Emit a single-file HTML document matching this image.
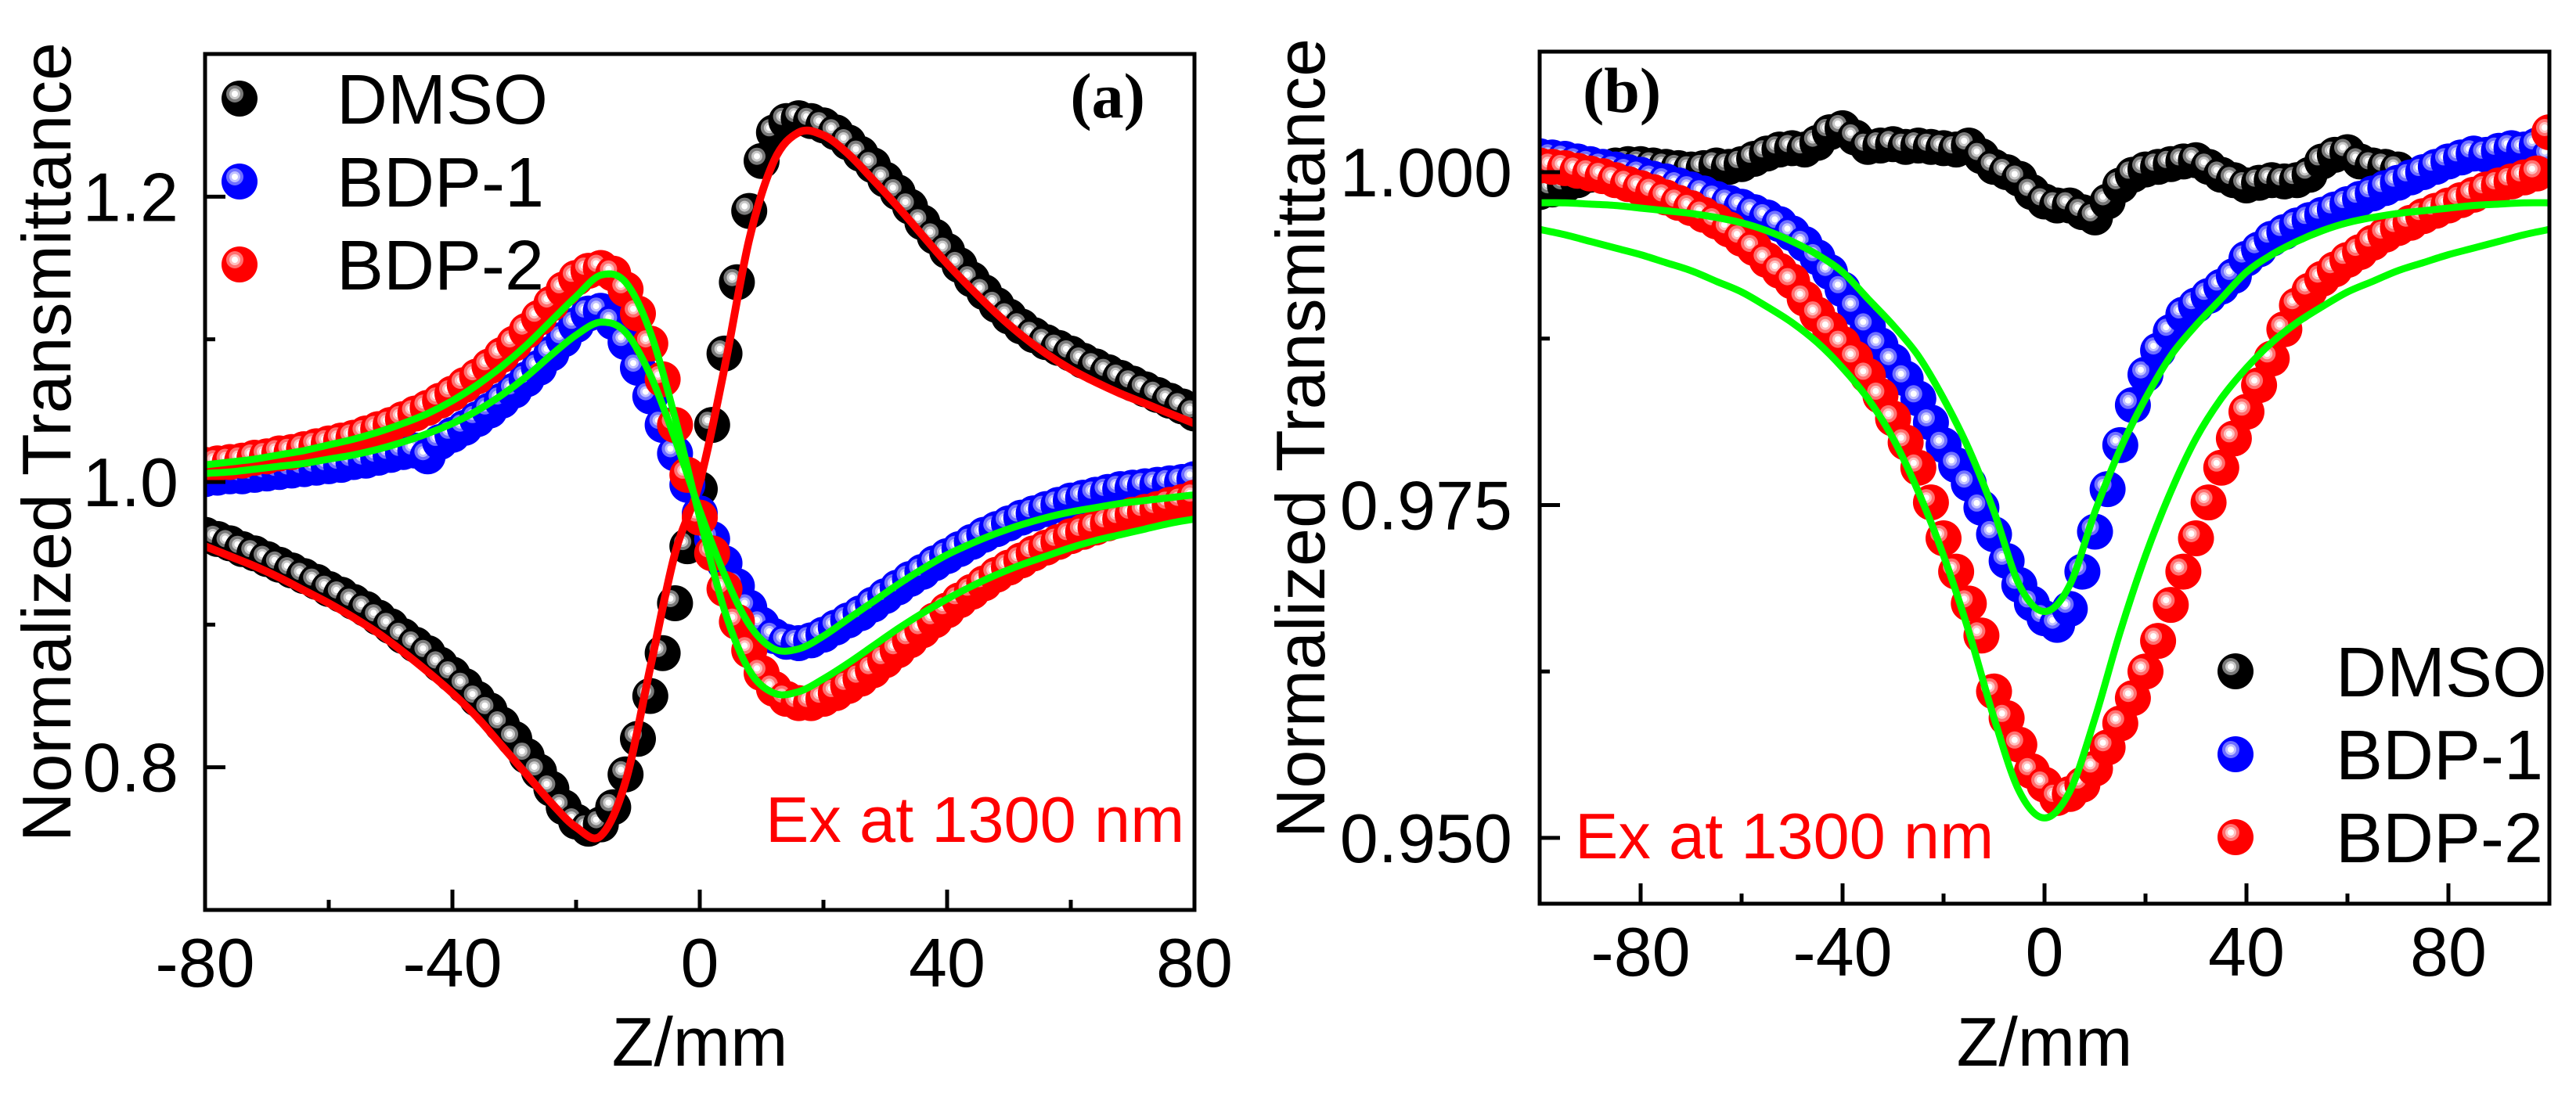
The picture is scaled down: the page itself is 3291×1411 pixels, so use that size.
<!DOCTYPE html>
<html><head><meta charset="utf-8"><style>
html,body{margin:0;padding:0;background:#fff;}
svg{display:block;font-family:"Liberation Sans",Arial,sans-serif;}
</style></head><body>
<svg id="fig" width="3291" height="1411" viewBox="0 0 3291 1411" xmlns="http://www.w3.org/2000/svg">
<defs>
<g id="mk-black"><circle r="23" fill="#000"/><circle cx="-6" cy="-6" r="11" fill="#7a7a7a"/><circle cx="-6" cy="-6" r="7" fill="#c8c8c8"/><circle cx="-6" cy="-6" r="4" fill="#fff"/></g>
<g id="mk-blue"><circle r="23" fill="#0000ff"/><circle cx="-6" cy="-6" r="11" fill="#7070ff"/><circle cx="-6" cy="-6" r="7" fill="#c0c0ff"/><circle cx="-6" cy="-6" r="4" fill="#fff"/></g>
<g id="mk-red"><circle r="23" fill="#ff0000"/><circle cx="-6" cy="-6" r="11" fill="#ff7070"/><circle cx="-6" cy="-6" r="7" fill="#ffc0c0"/><circle cx="-6" cy="-6" r="4" fill="#fff"/></g>
<clipPath id="clipA"><rect x="262" y="69" width="1264" height="1094"/></clipPath>
<clipPath id="clipB"><rect x="1967" y="66" width="1290" height="1089"/></clipPath>
</defs>
<g id="panelA"></g>
<g id="panelB"></g>
</svg>
<script>
// ---------- Panel (a) data ----------
const zA = [-80,-78,-76,-74,-72,-70,-68,-66,-64,-62,-60,-58,-56,-54,-52,-50,-48,-46,-44,-42,-40,-38,-36,-34,-32,-30,-28,-26,-24,-22,-20,-18,-16,-14,-12,-10,-8,-6,-4,-2,0,2,4,6,8,10,12,14,16,18,20,22,24,26,28,30,32,34,36,38,40,42,44,46,48,50,52,54,56,58,60,62,64,66,68,70,72,74,76,78,80];
const dmsoA = [.963,.960,.957,.953,.950,.946,.942,.938,.934,.930,.925,.921,.916,.911,.905,.899,.892,.886,.880,.872,.865,.857,.848,.840,.830,.820,.808,.797,.785,.772,.762,.757,.760,.772,.795,.820,.850,.880,.915,.955,.995,1.04,1.09,1.14,1.19,1.225,1.245,1.253,1.255,1.253,1.250,1.245,1.238,1.230,1.222,1.212,1.203,1.193,1.182,1.172,1.162,1.152,1.142,1.133,1.124,1.116,1.109,1.103,1.098,1.094,1.090,1.085,1.081,1.077,1.073,1.069,1.065,1.061,1.057,1.053,1.048];
const bdp1A = [1.002,1.003,1.004,1.004,1.005,1.006,1.007,1.008,1.009,1.010,1.011,1.012,1.014,1.015,1.017,1.019,1.021,1.022,1.018,1.028,1.033,1.038,1.044,1.050,1.057,1.064,1.072,1.080,1.090,1.100,1.110,1.118,1.120,1.112,1.098,1.080,1.060,1.040,1.020,0.998,0.978,0.960,0.943,0.927,0.912,0.900,0.892,0.888,0.887,0.889,0.893,0.898,0.903,0.908,0.914,0.920,0.926,0.932,0.937,0.943,0.948,0.953,0.958,0.963,0.967,0.971,0.975,0.978,0.981,0.984,0.987,0.989,0.991,0.993,0.995,0.996,0.997,0.998,0.999,1.000,1.002];
const bdp2A = [1.012,1.013,1.014,1.015,1.017,1.018,1.020,1.021,1.023,1.025,1.027,1.029,1.031,1.034,1.037,1.040,1.044,1.048,1.052,1.057,1.062,1.068,1.074,1.081,1.089,1.097,1.106,1.115,1.125,1.135,1.143,1.148,1.150,1.146,1.135,1.118,1.097,1.072,1.040,1.005,0.975,0.950,0.925,0.902,0.882,0.866,0.855,0.848,0.845,0.845,0.848,0.852,0.857,0.862,0.868,0.875,0.882,0.889,0.896,0.903,0.910,0.917,0.923,0.929,0.935,0.940,0.945,0.950,0.954,0.958,0.962,0.965,0.968,0.971,0.974,0.977,0.979,0.981,0.984,0.986,0.989];
const zFitA = [-80,-76,-72,-68,-64,-60,-56,-52,-48,-44,-40,-36,-32,-28,-24,-20,-16,-12,-8,-4,0,4,8,12,16,20,24,28,32,36,40,44,48,52,56,60,64,68,72,76,80];
const fitDmsoA = [.955,.948,.941,.933,.924,.915,.905,.894,.881,.867,.852,.835,.815,.795,.775,.758,.752,.790,.870,.950,1.00,1.08,1.17,1.225,1.245,1.243,1.230,1.212,1.193,1.173,1.153,1.135,1.118,1.103,1.090,1.079,1.070,1.062,1.055,1.048,1.041];
const fitBdp1A = [1.006,1.007,1.009,1.011,1.013,1.016,1.019,1.023,1.028,1.034,1.041,1.050,1.061,1.074,1.089,1.103,1.112,1.105,1.075,1.030,0.980,0.935,0.900,0.883,0.883,0.892,0.904,0.916,0.928,0.939,0.949,0.957,0.964,0.970,0.975,0.979,0.982,0.985,0.987,0.989,0.991];
const fitBdp2A = [1.012,1.014,1.016,1.019,1.022,1.026,1.030,1.035,1.041,1.048,1.057,1.068,1.081,1.096,1.113,1.130,1.145,1.140,1.105,1.045,0.975,0.910,0.868,0.852,0.853,0.862,0.873,0.885,0.897,0.908,0.918,0.927,0.935,0.942,0.948,0.954,0.959,0.963,0.967,0.971,0.974];
const xTicksA = [-80,-40,0,40,80];
const xTickLabelsA = ["-80","-40","0","40","80"];
const xMinorA = [-60,-20,20,60];
const yTicksA = [0.8,1.0,1.2];
const yTickLabelsA = ["0.8","1.0","1.2"];
const yMinorA = [0.9,1.1];

// ---------- Panel (b) data ----------
const zB = [];
for (let i = 0; i <= 80; i++) zB.push(-100 + 2.5 * i);
const dmsoB = [0.9985,0.9987,0.9990,0.9994,0.9998,1.0002,1.0005,1.0006,1.0006,1.0005,1.0004,1.0003,1.0002,1.0003,1.0005,1.0004,1.0006,1.0010,1.0014,1.0017,1.0018,1.0017,1.0022,1.0030,1.0033,1.0026,1.0019,1.0020,1.0021,1.0019,1.0020,1.0019,1.0018,1.0017,1.0020,1.0012,1.0004,1.0000,0.9995,0.9985,0.9978,0.9975,0.9975,0.9970,0.9966,0.9978,0.9990,0.9998,1.0002,1.0004,1.0006,1.0008,1.0009,1.0004,0.9998,0.9994,0.9990,0.9992,0.9994,0.9993,0.9994,0.9998,1.0008,1.0013,1.0015,1.0008,1.0005,1.0004,1.0002];
const bdp1B = [1.0012,1.0011,1.0010,1.0008,1.0006,1.0004,1.0002,1.0000,0.9998,0.9995,0.9993,0.9990,0.9987,0.9984,0.9980,0.9977,0.9974,0.9970,0.9966,0.9961,0.9954,0.9946,0.9936,0.9925,0.9912,0.9898,0.9884,0.9870,0.9858,0.9845,0.9830,0.9812,0.9795,0.9780,0.9766,0.9748,0.9728,0.9708,0.9690,0.9676,0.9665,0.9660,0.9672,0.9700,0.9730,0.9762,0.9795,0.9825,0.9848,0.9866,0.9880,0.9893,0.9900,0.9907,0.9914,0.9922,0.9935,0.9942,0.9950,0.9955,0.9960,0.9964,0.9968,0.9972,0.9976,0.9980,0.9984,0.9988,0.9992,0.9996,1.0000,1.0004,1.0008,1.0011,1.0014,1.0013,1.0016,1.0018,1.0017,1.0020,1.0012];
const bdp2B = [1.0005,1.0004,1.0003,1.0001,0.9999,0.9997,0.9994,0.9991,0.9988,0.9985,0.9981,0.9977,0.9973,0.9968,0.9963,0.9957,0.9950,0.9943,0.9934,0.9926,0.9918,0.9905,0.9893,0.9882,0.9871,0.9860,0.9847,0.9832,0.9815,0.9797,0.9778,0.9752,0.9725,0.9700,0.9676,0.9652,0.9610,0.9590,0.9570,0.9550,0.9540,0.9530,0.9533,0.9540,0.9552,0.9568,0.9586,0.9605,0.9625,0.9648,0.9675,0.9700,0.9725,0.9752,0.9778,0.9800,0.9820,0.9840,0.9860,0.9882,0.9900,0.9911,0.9920,0.9927,0.9934,0.9940,0.9947,0.9953,0.9958,0.9962,0.9967,0.9971,0.9975,0.9979,0.9983,0.9987,0.9990,0.9993,0.9996,0.9999,1.0030];
const zFitB = [-100,-95,-90,-85,-80,-75,-70,-65,-60,-55,-50,-45,-40,-35,-30,-25,-20,-15,-10,-5,0,5,10,15,20,25,30,35,40,45,50,55,60,65,70,75,80,85,90,95,100];
const fitBdp1B = [.9977,.9977,.9976,.9975,.9973,.9971,.9969,.9966,.9962,.9956,.9948,.9938,.9925,.9905,.9885,.9862,.9830,.9792,.9745,.9690,.9670,.9690,.9745,.9792,.9830,.9862,.9885,.9905,.9925,.9938,.9948,.9956,.9962,.9966,.9969,.9971,.9973,.9975,.9976,.9977,.9977];
const fitBdp2B = [.9957,.9953,.9948,.9943,.9938,.9932,.9926,.9918,.9910,.9899,.9887,.9872,.9853,.9830,.9800,.9760,.9712,.9655,.9590,.9535,.9515,.9535,.9590,.9655,.9712,.9760,.9800,.9830,.9853,.9872,.9887,.9899,.9910,.9918,.9926,.9932,.9938,.9943,.9948,.9953,.9957];
const xTicksB = [-80,-40,0,40,80];
const xTickLabelsB = ["-80","-40","0","40","80"];
const xMinorB = [-60,-20,20,60];
const yTicksB = [0.950,0.975,1.000];
const yTickLabelsB = ["0.950","0.975","1.000"];
const yMinorB = [0.9625,0.9875];

const NS = "http://www.w3.org/2000/svg";
function mk(tag, attrs, parent) {
  const e = document.createElementNS(NS, tag);
  for (const k in attrs) e.setAttribute(k, attrs[k]);
  parent.appendChild(e);
  return e;
}
function linScale(d0, d1, r0, r1) { return v => r0 + (v - d0) / (d1 - d0) * (r1 - r0); }
function smoothPath(pts) {
  let d = "M" + pts[0][0].toFixed(1) + "," + pts[0][1].toFixed(1);
  for (let i = 0; i < pts.length - 1; i++) {
    const p0 = pts[Math.max(0, i - 1)], p1 = pts[i], p2 = pts[i + 1], p3 = pts[Math.min(pts.length - 1, i + 2)];
    const c1x = p1[0] + (p2[0] - p0[0]) / 6, c1y = p1[1] + (p2[1] - p0[1]) / 6;
    const c2x = p2[0] - (p3[0] - p1[0]) / 6, c2y = p2[1] - (p3[1] - p1[1]) / 6;
    d += "C" + c1x.toFixed(1) + "," + c1y.toFixed(1) + " " + c2x.toFixed(1) + "," + c2y.toFixed(1) + " " + p2[0].toFixed(1) + "," + p2[1].toFixed(1);
  }
  return d;
}

function drawPanel(cfg) {
  const g = document.getElementById(cfg.id);
  const X = linScale(cfg.xMin, cfg.xMax, cfg.L, cfg.R);
  const Y = linScale(cfg.yMin, cfg.yMax, cfg.B, cfg.T);
  const plot = mk("g", {"clip-path": "url(#" + cfg.clip + ")"}, g);
  
  
  cfg.series.forEach(s => {
    const sg = mk("g", {}, plot);
    
    
    s.ys.forEach((v, i) => {
      const u = mk("use", {href: "#mk-" + s.color, x: X(s.xs[i]).toFixed(1), y: Y(v).toFixed(1)}, sg);
      
      
    });
  });
  cfg.fits.forEach(f => {
    const pts = f.ys.map((v, i) => [X(f.xs[i]), Y(v)]);
    const p = mk("path", {d: smoothPath(pts), fill: "none", stroke: f.stroke, "stroke-width": f.w, "stroke-linejoin": "round"}, plot);
    
    
  });
  const fr = mk("rect", {x: cfg.L, y: cfg.T, width: cfg.R - cfg.L, height: cfg.B - cfg.T, fill: "none", stroke: "#000", "stroke-width": 5}, g);
  
  
  cfg.xTicks.forEach((t, i) => {
    const x = X(t);
    const tk = mk("line", {x1: x, x2: x, y1: cfg.B, y2: cfg.B - 26, stroke: "#000", "stroke-width": 5}, g);
    
    
    const tl = mk("text", {x: x, y: cfg.xLabelY, "font-size": 88, "text-anchor": "middle"}, g);
    tl.textContent = cfg.xTickLabels[i];
    
    
  });
  cfg.xMinor.forEach(t => {
    const x = X(t);
    const tk = mk("line", {x1: x, x2: x, y1: cfg.B, y2: cfg.B - 13, stroke: "#000", "stroke-width": 5}, g);
    
    
  });
  cfg.yTicks.forEach((t, i) => {
    const y = Y(t);
    const tk = mk("line", {x1: cfg.L, x2: cfg.L + 26, y1: y, y2: y, stroke: "#000", "stroke-width": 5}, g);
    
    
    const tl = mk("text", {x: cfg.yLabelX, y: y + 31, "font-size": 88, "text-anchor": "end"}, g);
    tl.textContent = cfg.yTickLabels[i];
    
    
  });
  cfg.yMinor.forEach(t => {
    const y = Y(t);
    const tk = mk("line", {x1: cfg.L, x2: cfg.L + 13, y1: y, y2: y, stroke: "#000", "stroke-width": 5}, g);
    
    
  });
  const xt = mk("text", {x: (cfg.L + cfg.R) / 2, y: 1362, "font-size": 88, "text-anchor": "middle"}, g);
  xt.textContent = "Z/mm";
  
  
  const yt = mk("text", {x: 0, y: 0, "font-size": 88, "text-anchor": "middle", transform: "translate(" + cfg.yTitleX + "," + cfg.yTitleY + ") rotate(-90)"}, g);
  yt.textContent = "Normalized Transmittance";
  
  
  const pl = mk("text", {x: cfg.labelX, y: cfg.labelY, "font-size": 82, "font-weight": "bold", "font-family": "'Liberation Serif', serif", "text-anchor": cfg.labelAnchor}, g);
  pl.textContent = cfg.label;
  
  
  const ex = mk("text", {x: cfg.exX, y: cfg.exY, "font-size": 83, fill: "#ff0000"}, g);
  ex.textContent = "Ex at 1300 nm";
  
  
  const lg = mk("g", {}, g);
  
  
  cfg.legend.forEach((e, i) => {
    const y = cfg.legY + i * 106;
    const m = mk("use", {href: "#mk-" + e.color, x: cfg.legX, y: y}, lg);
    
    
    const t = mk("text", {x: cfg.legTextX, y: y + 32, "font-size": 90}, lg);
    t.textContent = e.label;
    
    
  });
}

drawPanel({
  id: "panelA", clip: "clipA", L: 262, R: 1526, T: 69, B: 1163,
  xMin: -80, xMax: 80, yMin: 0.7, yMax: 1.3,
  series: [
    {name: "dmso", color: "black", xs: zA, ys: dmsoA},
    {name: "bdp-1", color: "blue", xs: zA, ys: bdp1A},
    {name: "bdp-2", color: "red", xs: zA, ys: bdp2A}
  ],
  fits: [
    {name: "dmso-fit-line", stroke: "#ff0000", w: 10, xs: zFitA, ys: fitDmsoA},
    {name: "bdp-1-fit-line", stroke: "#00ff00", w: 9, xs: zFitA, ys: fitBdp1A},
    {name: "bdp-2-fit-line", stroke: "#00ff00", w: 9, xs: zFitA, ys: fitBdp2A}
  ],
  xTicks: xTicksA, xTickLabels: xTickLabelsA, xMinor: xMinorA,
  yTicks: yTicksA, yTickLabels: yTickLabelsA, yMinor: yMinorA,
  xLabelY: 1261, yLabelX: 228, yTitleX: 90, yTitleY: 565,
  label: "(a)", labelX: 1463, labelY: 150, labelAnchor: "end",
  exX: 978, exY: 1076,
  legX: 306, legY: 126, legTextX: 430,
  legend: [{color: "black", label: "DMSO"}, {color: "blue", label: "BDP-1"}, {color: "red", label: "BDP-2"}]
});

drawPanel({
  id: "panelB", clip: "clipB", L: 1967, R: 3257, T: 66, B: 1155,
  xMin: -100, xMax: 100, yMin: 0.94506, yMax: 1.00905,
  series: [
    {name: "dmso", color: "black", xs: zB, ys: dmsoB},
    {name: "bdp-1", color: "blue", xs: zB, ys: bdp1B},
    {name: "bdp-2", color: "red", xs: zB, ys: bdp2B}
  ],
  fits: [
    {name: "bdp-1-fit-line", stroke: "#00ff00", w: 9, xs: zFitB, ys: fitBdp1B},
    {name: "bdp-2-fit-line", stroke: "#00ff00", w: 9, xs: zFitB, ys: fitBdp2B}
  ],
  xTicks: xTicksB, xTickLabels: xTickLabelsB, xMinor: xMinorB,
  yTicks: yTicksB, yTickLabels: yTickLabelsB, yMinor: yMinorB,
  xLabelY: 1247, yLabelX: 1932, yTitleX: 1692, yTitleY: 560,
  label: "(b)", labelX: 2022, labelY: 143, labelAnchor: "start",
  exX: 2012, exY: 1097,
  legX: 2856, legY: 858, legTextX: 2984,
  legend: [{color: "black", label: "DMSO"}, {color: "blue", label: "BDP-1"}, {color: "red", label: "BDP-2"}]
});
</script>
</body></html>
